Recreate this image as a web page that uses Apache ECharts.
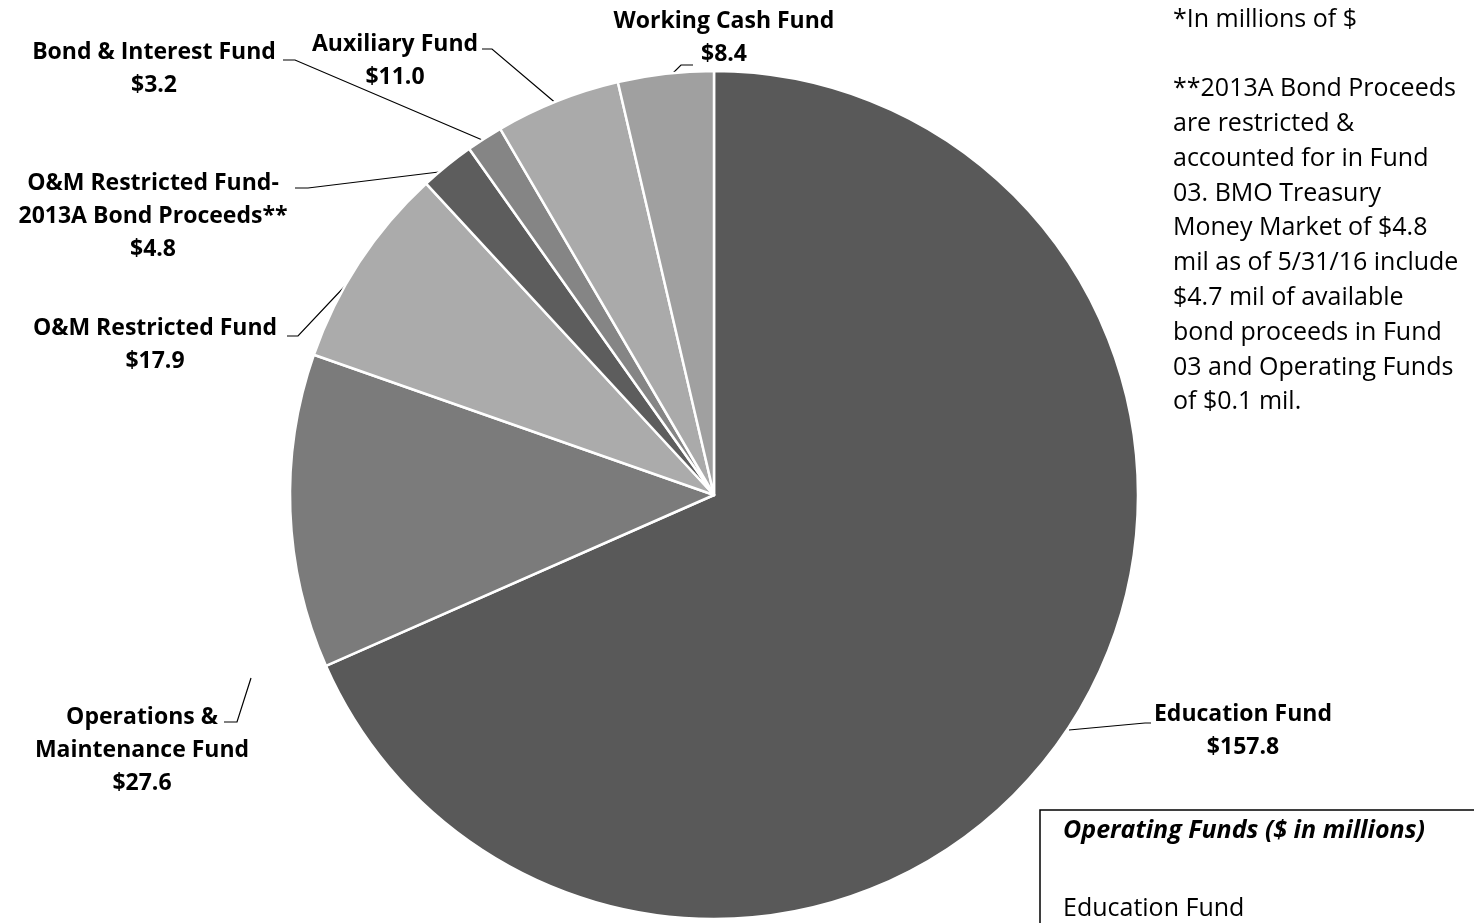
<!DOCTYPE html>
<html>
<head>
<meta charset="utf-8">
<script src="https://cdn.jsdelivr.net/npm/echarts@6/dist/echarts.min.js"></script>
<style>
html,body{margin:0;padding:0;background:#fff;}
#c{width:1474px;height:923px;}
</style>
</head>
<body>
<div id="c"></div>
<script>
var categories = ["Education Fund", "Operations &\nMaintenance Fund", "O&M Restricted Fund", "O&M Restricted Fund-\n2013A Bond Proceeds**", "Bond & Interest Fund", "Auxiliary Fund", "Working Cash Fund"];
var values = [157.8, 27.6, 17.9, 4.8, 3.2, 11.0, 8.4];
var noteLines = ["*In millions of $", "", "**2013A Bond Proceeds", "are restricted &", "accounted for in Fund", "03. BMO Treasury", "Money Market of $4.8", "mil as of 5/31/16 include", "$4.7 mil of available", "bond proceeds in Fund", "03 and Operating Funds", "of $0.1 mil."];
var boxTitle = "Operating Funds ($ in millions)";
var boxItem = "Education Fund";

var sliceColors = ["#595959", "#7b7b7b", "#ababab", "#5d5d5d", "#858585", "#aaaaaa", "#a0a0a0"];
// label layout (positions only)
var labelPos = [
  {x: 1243, y: 731, pts: [[1069, 730], [1145, 723], [1151, 723]]},
  {x: 142, y: 750, pts: [[251, 678], [237, 722], [224, 722]]},
  {x: 155, y: 345, pts: [[362, 268], [298, 336], [287, 336]]},
  {x: 153, y: 216, pts: [[447, 171], [308, 188], [295, 188]]},
  {x: 154, y: 69, pts: [[487, 142], [295, 60], [283, 60]]},
  {x: 395, y: 61, pts: [[558, 105], [492, 49], [482, 49]]},
  {x: 724, y: 38, pts: [[667, 79], [681, 65], [693, 65]]}
];

var chart = echarts.init(document.getElementById('c'));
var data = categories.map(function (n, i) {
  return {name: n, value: values[i], itemStyle: {color: sliceColors[i]}};
});
chart.setOption({
  animation: false,
  backgroundColor: '#ffffff',
  series: [{
    type: 'pie',
    center: [714, 495],
    radius: 424,
    startAngle: 90,
    clockwise: true,
    avoidLabelOverlap: false,
    data: data,
    itemStyle: {borderColor: '#ffffff', borderWidth: 2.5},
    label: {
      show: true,
      position: 'outside',
      formatter: function (p) { return p.name + '\n$' + p.value.toFixed(1); },
      fontFamily: 'Open Sans',
      fontWeight: 'bold',
      fontSize: 23,
      lineHeight: 33,
      color: '#000',
      align: 'center'
    },
    labelLine: {show: true, lineStyle: {color: '#000', width: 1.2}, smooth: false},
    labelLayout: function (params) {
      var lp = labelPos[params.dataIndex];
      return {x: lp.x, y: lp.y, align: 'center', verticalAlign: 'middle', labelLinePoints: lp.pts};
    },
    emphasis: {disabled: true}
  }],
  graphic: [
    {
      type: 'text', left: 1173, top: 2,
      style: {text: noteLines.join('\n'), font: '25px "Open Sans"', fill: '#000', lineHeight: 34.8}
    },
    {
      type: 'rect', shape: {x: 1040, y: 810, width: 450, height: 130},
      style: {fill: 'none', stroke: '#000', lineWidth: 1.5}
    },
    {
      type: 'text', left: 1063, top: 818,
      style: {text: boxTitle, font: 'italic bold 25px "Open Sans"', fill: '#000'}
    },
    {
      type: 'text', left: 1063, top: 896,
      style: {text: boxItem, font: '25px "Open Sans"', fill: '#000'}
    }
  ]
});
</script>
</body>
</html>
